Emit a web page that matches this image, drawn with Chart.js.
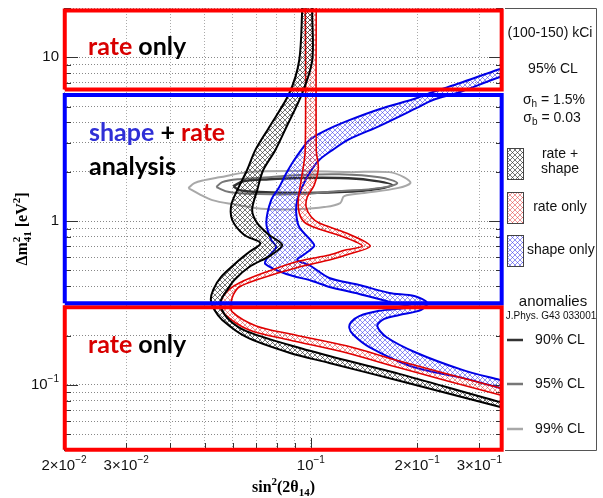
<!DOCTYPE html>
<html>
<head>
<meta charset="utf-8">
<script src="https://cdn.jsdelivr.net/npm/chart.js@4.4.1/dist/chart.umd.min.js"></script>
<style>
  html, body { margin: 0; padding: 0; background: #fff; }
</style>
</head>
<body>
<canvas id="chart" width="603" height="498"></canvas>
<script>
// axes
const xRange = [0.02, 0.35];
const yRange = [0.04, 20];
const xTickValues = [0.02, 0.03, 0.04, 0.05, 0.06, 0.07, 0.08, 0.09, 0.1, 0.2, 0.3];
const yTickValues = [0.04, 0.05, 0.06, 0.07, 0.08, 0.09, 0.1, 0.2, 0.3, 0.4, 0.5, 0.6, 0.7, 0.8, 0.9,
                     1, 2, 3, 4, 5, 6, 7, 8, 9, 10, 20];
const xLabelValues = [0.02, 0.03, 0.1, 0.2, 0.3];
const xLabelBase = ['2\u00d710', '3\u00d710', '10', '2\u00d710', '3\u00d710'];
const xLabelExp = ['\u22122', '\u22122', '\u22121', '\u22121', '\u22121'];
const yLabelValues = [0.1, 1, 10];
const yLabelBase = ['10', '1', '10'];
const yLabelExp = ['\u22121', '', ''];

// rate + shape band (black): [sin^2(2theta), dm^2]
const blackLeft = [[0.0952, 30], [0.0945, 19.35], [0.0927, 9.59], [0.0869, 6.03], [0.0762, 3.74],
  [0.0696, 2.71], [0.0660, 2.05], [0.0619, 1.545], [0.0595, 1.252], [0.0599, 1.014], [0.0648, 0.822],
  [0.0719, 0.734], [0.0669, 0.647], [0.0627, 0.578], [0.0557, 0.456], [0.0529, 0.380], [0.0521, 0.330],
  [0.0533, 0.287], [0.0561, 0.249], [0.0656, 0.196], [0.0869, 0.157], [0.1128, 0.136], [0.1780, 0.1058],
  [0.3418, 0.0734], [0.3894, 0.0684]];
const blackRight = [[0.1016, 30], [0.1009, 19.35], [0.1009, 9.59], [0.0945, 6.03], [0.0852, 3.74],
  [0.0793, 2.71], [0.0733, 2.05], [0.0705, 1.545], [0.0682, 1.167], [0.0705, 0.972], [0.0762, 0.822],
  [0.0830, 0.714], [0.0772, 0.620], [0.0669, 0.524], [0.0607, 0.437], [0.0580, 0.380], [0.0557, 0.330],
  [0.0557, 0.295], [0.0587, 0.249], [0.0656, 0.213], [0.0869, 0.175], [0.1128, 0.150], [0.1780, 0.1167],
  [0.3418, 0.0787], [0.3894, 0.0745]];

// rate only band (red)
const redLeft = [[0.0964, 30], [0.0964, 2.71], [0.0939, 1.778], [0.0921, 1.343], [0.0927, 1.119],
  [0.0958, 0.986], [0.1036, 0.906], [0.1260, 0.788], [0.1398, 0.704], [0.1252, 0.665], [0.1128, 0.620],
  [0.0927, 0.570], [0.0748, 0.489], [0.0627, 0.419], [0.0572, 0.364], [0.0557, 0.316], [0.0565, 0.275],
  [0.0669, 0.216], [0.0869, 0.188], [0.1260, 0.157], [0.1780, 0.127], [0.3418, 0.0869], [0.3894, 0.0810]];
const redRight = [[0.1036, 30], [0.1036, 2.71], [0.1050, 2.10], [0.1022, 1.658], [0.0977, 1.401],
  [0.0970, 1.217], [0.1003, 1.058], [0.1056, 0.972], [0.1260, 0.845], [0.1473, 0.704], [0.1285, 0.629],
  [0.1128, 0.578], [0.0927, 0.524], [0.0714, 0.443], [0.0627, 0.396], [0.0603, 0.354], [0.0595, 0.316],
  [0.0599, 0.279], [0.0700, 0.229], [0.0869, 0.205], [0.1260, 0.173], [0.1780, 0.140], [0.3418, 0.0959],
  [0.3894, 0.0894]];

// shape only band (blue)
const blueUpper = [[0.3894, 9.19], [0.3418, 8.45], [0.2633, 6.94], [0.2208, 6.12], [0.1989, 5.62],
  [0.1562, 4.82], [0.1285, 4.13], [0.1106, 3.59], [0.0990, 3.12], [0.0909, 2.46], [0.0852, 1.96],
  [0.0814, 1.612], [0.0772, 1.343], [0.0748, 0.972], [0.0772, 0.766], [0.0798, 0.694], [0.0752, 0.595],
  [0.0743, 0.547], [0.0852, 0.475], [0.1009, 0.431], [0.1128, 0.396], [0.1371, 0.359], [0.1668, 0.321],
  [0.1839, 0.307], [0.1900, 0.299], [0.1780, 0.291], [0.1562, 0.283], [0.1371, 0.263], [0.1301, 0.242],
  [0.1285, 0.223], [0.1319, 0.202], [0.1464, 0.170], [0.1938, 0.129], [0.2685, 0.1103], [0.3418, 0.0959],
  [0.3894, 0.0894]];
const blueLower = [[0.3894, 8.10], [0.3418, 7.55], [0.2633, 6.12], [0.2208, 5.47], [0.1989, 4.89],
  [0.1562, 3.80], [0.1285, 3.16], [0.1150, 2.71], [0.1056, 2.36], [0.0990, 1.96], [0.0945, 1.612],
  [0.0915, 1.343], [0.0909, 1.119], [0.0927, 0.919], [0.1009, 0.745], [0.1022, 0.704], [0.0970, 0.638],
  [0.0915, 0.578], [0.0990, 0.539], [0.1128, 0.449], [0.1371, 0.407], [0.1668, 0.364], [0.1963, 0.349],
  [0.2137, 0.316], [0.2055, 0.287], [0.1780, 0.267], [0.1614, 0.253], [0.1542, 0.229], [0.1635, 0.196],
  [0.1989, 0.157], [0.2685, 0.1234], [0.3418, 0.1073], [0.3894, 0.1000]];

// anomalies contours (J.Phys. G43 033001)
const anomaly90 = [[0.0603, 1.635], [0.0648, 1.754], [0.0762, 1.80], [0.0927, 1.83], [0.1204, 1.83],
  [0.1464, 1.778], [0.1701, 1.658], [0.1464, 1.545], [0.1204, 1.503], [0.0927, 1.482], [0.0714, 1.503],
  [0.0627, 1.545], [0.0603, 1.635]];
const anomaly95 = [[0.0540, 1.612], [0.0561, 1.729], [0.0627, 1.803], [0.0762, 1.85], [0.0927, 1.91],
  [0.1204, 1.93], [0.1562, 1.85], [0.1757, 1.705], [0.1562, 1.589], [0.1204, 1.524], [0.0927, 1.461],
  [0.0714, 1.461], [0.0587, 1.503], [0.0540, 1.612]];
const anomaly99 = [[0.0450, 1.589], [0.0468, 1.705], [0.0499, 1.778], [0.0550, 1.85], [0.0669, 1.99],
  [0.0927, 2.02], [0.1285, 1.99], [0.1668, 1.99], [0.1839, 1.85], [0.1913, 1.705], [0.1757, 1.589],
  [0.1417, 1.482], [0.1243, 1.420], [0.1211, 1.288], [0.1091, 1.217], [0.0927, 1.184], [0.0748, 1.184],
  [0.0599, 1.270], [0.0526, 1.343], [0.0483, 1.461], [0.0450, 1.589]];

// analysis regions: [low corner], [high corner]
const rateTopBox = [[0.0201, 6.36], [0.347, 19.3]];
const shapeRateBox = [[0.0201, 0.315], [0.347, 5.89]];
const rateBottomBox = [[0.0201, 0.0401], [0.347, 0.298]];

const RED = '#d80000';
const BLUE = '#2f2fd6';

function pts(arr) {
  return arr.map(p => ({ x: p[0], y: p[1] }));
}
function band(a, b) {
  return pts(a.concat(b.slice().reverse()));
}
function rect(box) {
  const [lo, hi] = box;
  return pts([[lo[0], lo[1]], [lo[0], hi[1]], [hi[0], hi[1]], [hi[0], lo[1]], [lo[0], lo[1]]]);
}
function hatch(color) {
  const c = document.createElement('canvas');
  c.width = 5; c.height = 5;
  const g = c.getContext('2d');
  g.strokeStyle = color;
  g.lineWidth = 0.9;
  g.beginPath();
  g.moveTo(-1, -1); g.lineTo(6, 6);
  g.moveTo(6, -1); g.lineTo(-1, 6);
  g.stroke();
  return g.createPattern(c, 'repeat');
}

const hatchBlack = hatch('rgba(40,40,40,0.7)');
const hatchRed = hatch('rgba(225,60,60,0.6)');
const hatchBlue = hatch('rgba(50,50,235,0.6)');

function bandSet(a, b, line, width, fillPattern, order) {
  return {
    data: band(a, b), showLine: true, fill: 'shape', backgroundColor: fillPattern,
    borderColor: line, borderWidth: width, pointRadius: 0, tension: 0.3, order: order
  };
}
function contourSet(arr, color, width) {
  return {
    data: pts(arr), showLine: true, fill: false, borderColor: color,
    borderWidth: width, pointRadius: 0, tension: 0.35, order: 6
  };
}
function boxSet(box, color) {
  return {
    data: rect(box), showLine: true, fill: false, borderColor: color, borderWidth: 4,
    borderJoinStyle: 'miter', pointRadius: 0, tension: 0, clip: false, order: 0
  };
}

const datasets = [
  contourSet(anomaly99, '#a8a8a8', 2),
  contourSet(anomaly95, '#777777', 2),
  contourSet(anomaly90, '#333333', 2.5),
  bandSet(blueUpper, blueLower, '#0000e6', 2, hatchBlue, 4),
  bandSet(redLeft, redRight, '#e00000', 1.6, hatchRed, 3),
  bandSet(blackLeft, blackRight, '#000000', 2, hatchBlack, 2),
  boxSet(rateTopBox, '#ff0000'),
  boxSet(shapeRateBox, '#0000ff'),
  boxSet(rateBottomBox, '#ff0000')
];

// small tick marks drawn inside the frame
const tickMarks = {
  id: 'tickMarks',
  beforeDatasetsDraw(chart) {
    const { ctx, chartArea: a, scales } = chart;
    ctx.save();
    ctx.strokeStyle = '#333';
    ctx.lineWidth = 1;
    ctx.beginPath();
    yTickValues.forEach(v => {
      const py = Math.round(scales.y.getPixelForValue(v)) + 0.5;
      const len = yLabelValues.includes(v) ? 14 : 7;
      ctx.moveTo(a.left, py); ctx.lineTo(a.left + len, py);
      ctx.moveTo(a.right, py); ctx.lineTo(a.right - len, py);
    });
    xTickValues.forEach(v => {
      const px = Math.round(scales.x.getPixelForValue(v)) + 0.5;
      const len = v === 0.1 ? 12 : 7;
      ctx.moveTo(px, a.bottom); ctx.lineTo(px, a.bottom - len);
    });
    ctx.stroke();
    ctx.restore();
  }
};

// text with a raised or lowered part
function richWidth(ctx, parts) {
  let w = 0;
  parts.forEach(p => { ctx.font = p.font; if (!p.noAdvance) w += ctx.measureText(p.t).width; });
  return w;
}
function richDraw(ctx, x, y, parts) {
  parts.forEach(p => {
    ctx.font = p.font;
    ctx.fillText(p.t, x, y + (p.dy || 0));
    if (!p.noAdvance) x += ctx.measureText(p.t).width;
  });
}

const axisLabels = {
  id: 'axisLabels',
  afterDraw(chart) {
    const { ctx, chartArea: a, scales } = chart;
    const main = '15px "Liberation Sans", Arial, sans-serif';
    const small = '10px "Liberation Sans", Arial, sans-serif';
    ctx.save();
    ctx.fillStyle = '#111';
    ctx.textBaseline = 'middle';
    ctx.textAlign = 'left';
    yLabelValues.forEach((v, i) => {
      const py = scales.y.getPixelForValue(v);
      const parts = [{ t: yLabelBase[i], font: main }];
      if (yLabelExp[i]) parts.push({ t: yLabelExp[i], font: small, dy: -6 });
      const w = richWidth(ctx, parts);
      richDraw(ctx, a.left - 5 - w, py, parts);
    });
    xLabelValues.forEach((v, i) => {
      const px = scales.x.getPixelForValue(v);
      const parts = [{ t: xLabelBase[i], font: main }, { t: xLabelExp[i], font: small, dy: -6 }];
      const w = richWidth(ctx, parts);
      richDraw(ctx, px - w / 2, a.bottom + 16, parts);
    });

    // x title
    const tb = 'bold 16px "Liberation Serif", "DejaVu Serif", serif';
    const ts = 'bold 11px "Liberation Serif", "DejaVu Serif", serif';
    ctx.fillStyle = '#000';
    const xt = [{ t: 'sin', font: tb }, { t: '2', font: ts, dy: -6 }, { t: '(2\u03b8', font: tb },
                { t: '14', font: ts, dy: 5 }, { t: ')', font: tb }];
    const xw = richWidth(ctx, xt);
    richDraw(ctx, (a.left + a.right) / 2 - xw / 2, 488, xt);

    // y title, rotated
    ctx.save();
    ctx.translate(23, (a.top + a.bottom) / 2);
    ctx.rotate(-Math.PI / 2);
    const yt = [{ t: '\u0394m', font: tb }, { t: '2', font: ts, dy: -6, noAdvance: true },
                { t: '41', font: ts, dy: 5 }, { t: ' [eV', font: tb }, { t: '2', font: ts, dy: -6 },
                { t: ']', font: tb }];
    const yw = richWidth(ctx, yt);
    richDraw(ctx, -yw / 2, 0, yt);
    ctx.restore();
    ctx.restore();
  }
};

const plotNotes = {
  id: 'plotNotes',
  afterDraw(chart) {
    const ctx = chart.ctx;
    ctx.save();
    ctx.textBaseline = 'alphabetic';
    ctx.textAlign = 'left';
    const f = 'bold 25px Lato, "Open Sans", sans-serif';
    const run = (x, y, parts) => {
      parts.forEach(([t, c]) => {
        ctx.font = f;
        ctx.fillStyle = c;
        ctx.fillText(t, x, y);
        x += ctx.measureText(t).width;
      });
    };
    run(88, 55, [['rate', RED], [' only', '#000']]);
    run(89, 141, [['shape', BLUE], [' + ', '#000'], ['rate', RED]]);
    run(89, 175, [['analysis', '#000']]);
    run(88, 353, [['rate', RED], [' only', '#000']]);
    ctx.restore();
  }
};

const legendPanel = {
  id: 'legendPanel',
  afterDraw(chart) {
    const { ctx, chartArea: a } = chart;
    const f14 = '14px "Liberation Sans", Arial, sans-serif';
    const f10 = '10px "Liberation Sans", Arial, sans-serif';
    ctx.save();
    ctx.strokeStyle = '#555';
    ctx.lineWidth = 1;
    ctx.beginPath();
    ctx.moveTo(a.right + 2, 8.5); ctx.lineTo(596.5, 8.5);
    ctx.lineTo(596.5, 450.5); ctx.lineTo(a.right + 2, 450.5);
    ctx.stroke();

    ctx.fillStyle = '#111';
    ctx.textBaseline = 'middle';
    ctx.textAlign = 'center';
    ctx.font = f14;
    ctx.fillText('(100-150) kCi', 550, 33);
    ctx.fillText('95% CL', 553, 69);

    ctx.textAlign = 'left';
    const sh = [{ t: '\u03c3', font: f14 }, { t: 'h', font: f10, dy: 4 }, { t: ' = 1.5%', font: f14 }];
    richDraw(ctx, 554 - richWidth(ctx, sh) / 2, 100, sh);
    const sb = [{ t: '\u03c3', font: f14 }, { t: 'b', font: f10, dy: 4 }, { t: ' = 0.03', font: f14 }];
    richDraw(ctx, 552 - richWidth(ctx, sb) / 2, 118, sb);

    // hatched swatches
    const sw = [[148, hatchBlack], [192, hatchRed], [235, hatchBlue]];
    sw.forEach(([y, p]) => {
      ctx.fillStyle = '#fff';
      ctx.fillRect(507, y, 16, 31);
      ctx.fillStyle = p;
      ctx.fillRect(507, y, 16, 31);
      ctx.strokeStyle = '#444';
      ctx.strokeRect(507.5, y + 0.5, 16, 31);
    });
    ctx.fillStyle = '#111';
    ctx.font = f14;
    ctx.textAlign = 'center';
    ctx.fillText('rate +', 560, 154);
    ctx.fillText('shape', 560, 169);
    ctx.fillText('rate only', 560, 207);
    ctx.textAlign = 'left';
    ctx.fillText('shape only', 527, 250);

    ctx.textAlign = 'center';
    ctx.font = '15px "Liberation Sans", Arial, sans-serif';
    ctx.fillText('anomalies', 553, 302);
    ctx.font = f10;
    ctx.fillText('J.Phys. G43 033001', 551, 316);

    const cl = [[340, '#333', '90% CL'], [384, '#777', '95% CL'], [429, '#a8a8a8', '99% CL']];
    cl.forEach(([y, c, t]) => {
      ctx.strokeStyle = c;
      ctx.lineWidth = 2.5;
      ctx.beginPath();
      ctx.moveTo(507, y); ctx.lineTo(523, y);
      ctx.stroke();
      ctx.fillStyle = '#111';
      ctx.font = f14;
      ctx.fillText(t, 560, y);
    });
    ctx.restore();
  }
};

new Chart(document.getElementById('chart'), {
  type: 'scatter',
  data: { datasets: datasets },
  options: {
    responsive: false,
    animation: false,
    devicePixelRatio: 1,
    events: [],
    layout: { padding: { top: 8, right: 100, left: 0, bottom: 0 } },
    plugins: { legend: { display: false }, tooltip: { enabled: false } },
    elements: { line: { capBezierPoints: false } },
    scales: {
      x: {
        type: 'logarithmic', min: xRange[0], max: xRange[1],
        afterBuildTicks: s => { s.ticks = xTickValues.map(v => ({ value: v })); },
        afterFit: s => { s.height = 48; },
        ticks: { display: false },
        grid: { color: '#aaa', lineWidth: 1, drawTicks: false },
        border: { display: false, dash: [1, 2] }
      },
      y: {
        type: 'logarithmic', min: yRange[0], max: yRange[1],
        afterBuildTicks: s => { s.ticks = yTickValues.map(v => ({ value: v })); },
        afterFit: s => { s.width = 64; },
        ticks: { display: false },
        grid: { color: '#888', lineWidth: 1, drawTicks: false },
        border: { display: false, dash: [1, 2] }
      }
    }
  },
  plugins: [tickMarks, plotNotes, axisLabels, legendPanel]
});
</script>
</body>
</html>
